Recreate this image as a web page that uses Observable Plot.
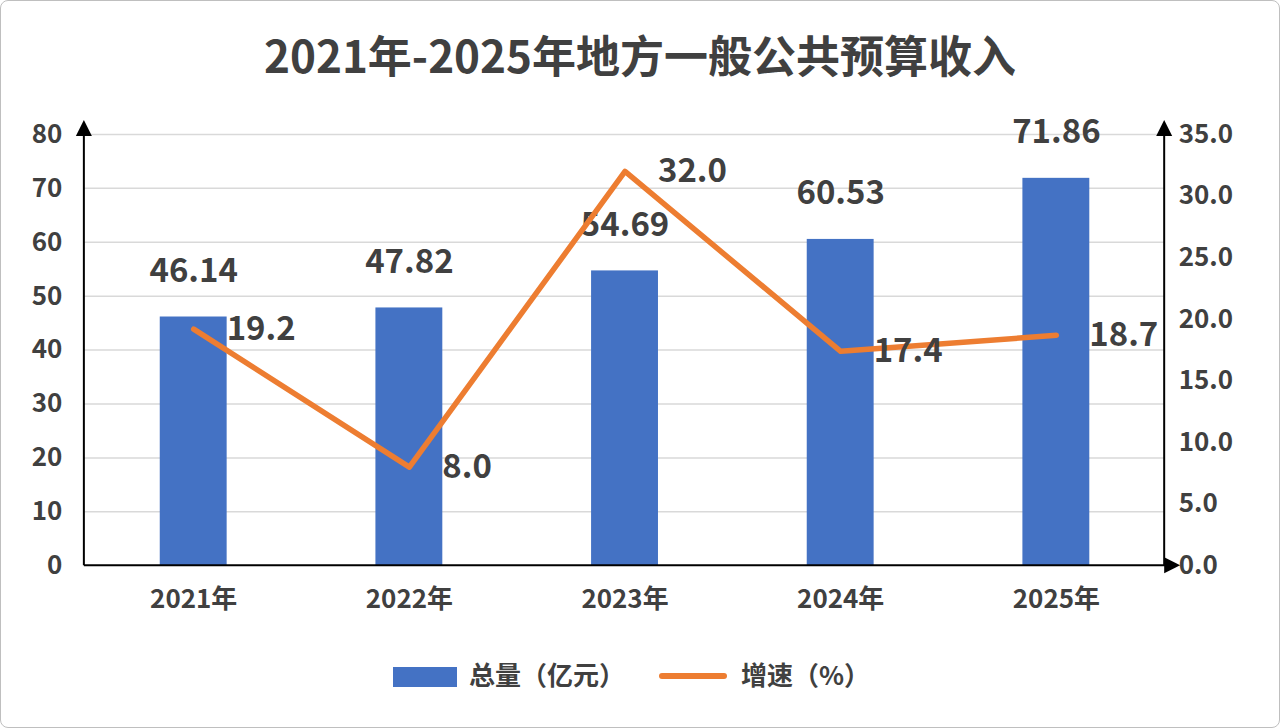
<!DOCTYPE html>
<html><head><meta charset="utf-8">
<script src="https://cdn.jsdelivr.net/npm/d3@7"></script>
<script src="https://cdn.jsdelivr.net/npm/@observablehq/plot@0.6"></script>
<style>
body{margin:0;font-family:"Noto Sans CJK SC","Noto Sans",sans-serif;background:#fff}
#wrap{position:relative;width:1278px;height:726px;border:1px solid #bfbfbf;border-radius:8px;overflow:hidden}
#title{height:100px;line-height:106px;text-align:center;font-size:44px;font-weight:bold;color:#404040}
#legend{position:absolute;top:656px;left:0;width:1280px;height:40px;font-size:26px;color:#404040;font-weight:bold}
</style></head><body>
<div id="wrap"><div id="title">2021年-2025年地方一般公共预算收入</div><div id="chart"></div>
<div id="legend">
<div style="position:absolute;left:392px;top:10px;width:64px;height:20px;background:#4472C4"></div>
<div style="position:absolute;left:468px;top:-2px">总量（亿元）</div>
<div style="position:absolute;left:658px;top:16px;width:68px;height:6px;background:#ED7D31;border-radius:3px"></div>
<div style="position:absolute;left:740px;top:-2px">增速（%）</div>
</div></div>
<script>
const years=["2021年","2022年","2023年","2024年","2025年"];
const totals=[46.14,47.82,54.69,60.53,71.86];
const growth=[19.2,8.0,32.0,17.4,18.7];
const rightTicks=[0,5,10,15,20,25,30,35];
const k=80/35;
const data=years.map((y,i)=>({year:y,total:totals[i],growth:growth[i],gs:growth[i]*k}));
const txt="#404040";
const plot=Plot.plot({
  width:1280,height:530,marginTop:33,marginBottom:65,marginLeft:83,marginRight:115,
  style:{fontFamily:'"Noto Sans CJK SC",sans-serif',fontSize:"26px",fontWeight:"bold",color:txt},
  x:{domain:years,paddingInner:0.69,paddingOuter:0.345,label:null},
  y:{domain:[0,80],label:null},
  marks:[
    Plot.gridY([10,20,30,40,50,60,70,80],{stroke:"#d9d9d9",strokeOpacity:1,strokeWidth:1.5}),
    Plot.axisY({ticks:[0,10,20,30,40,50,60,70,80],tickSize:0,tickPadding:22,label:null,fill:txt}),
    Plot.axisY(rightTicks.map(t=>t*k),{anchor:"right",tickSize:0,tickPadding:14,label:null,fill:txt,tickFormat:d=>(d/k).toFixed(1)}),
    Plot.axisX({tickSize:0,tickPadding:24,label:null,fill:txt}),
    Plot.barY(data,{x:"year",y:"total",fill:"#4472C4"}),
    Plot.text(data,{x:"year",y:"total",text:d=>d.total.toFixed(2),dy:-46,fontSize:33,fontWeight:"bold",fill:txt}),
    Plot.line(data,{x:"year",y:"gs",stroke:"#ED7D31",strokeWidth:5.5}),
    Plot.text(data,{x:"year",y:"gs",text:d=>d.growth.toFixed(1),dx:33,textAnchor:"start",fontSize:33,fontWeight:"bold",fill:txt})
  ]
});
document.getElementById("chart").appendChild(plot);
const svg=d3.select(plot);
const y=plot.scale("y"), x0=83, x1=1165, yb=y.apply(0), yt=y.apply(80);
const g=svg.append("g").attr("stroke","#000").attr("stroke-width",2);
g.append("line").attr("x1",x0).attr("x2",x0).attr("y1",yb).attr("y2",yt-2);
g.append("line").attr("x1",x1).attr("x2",x1).attr("y1",yb).attr("y2",yt-2);
g.append("line").attr("x1",x0).attr("x2",x1+2).attr("y1",yb).attr("y2",yb);
const a=svg.append("g").attr("fill","#000");
a.append("polygon").attr("points",`${x0-8},${yt+2} ${x0+8},${yt+2} ${x0},${yt-14}`);
a.append("polygon").attr("points",`${x1-8},${yt+2} ${x1+8},${yt+2} ${x1},${yt-14}`);
a.append("polygon").attr("points",`${x1},${yb-8} ${x1},${yb+8} ${x1+16},${yb}`);
</script></body></html>
